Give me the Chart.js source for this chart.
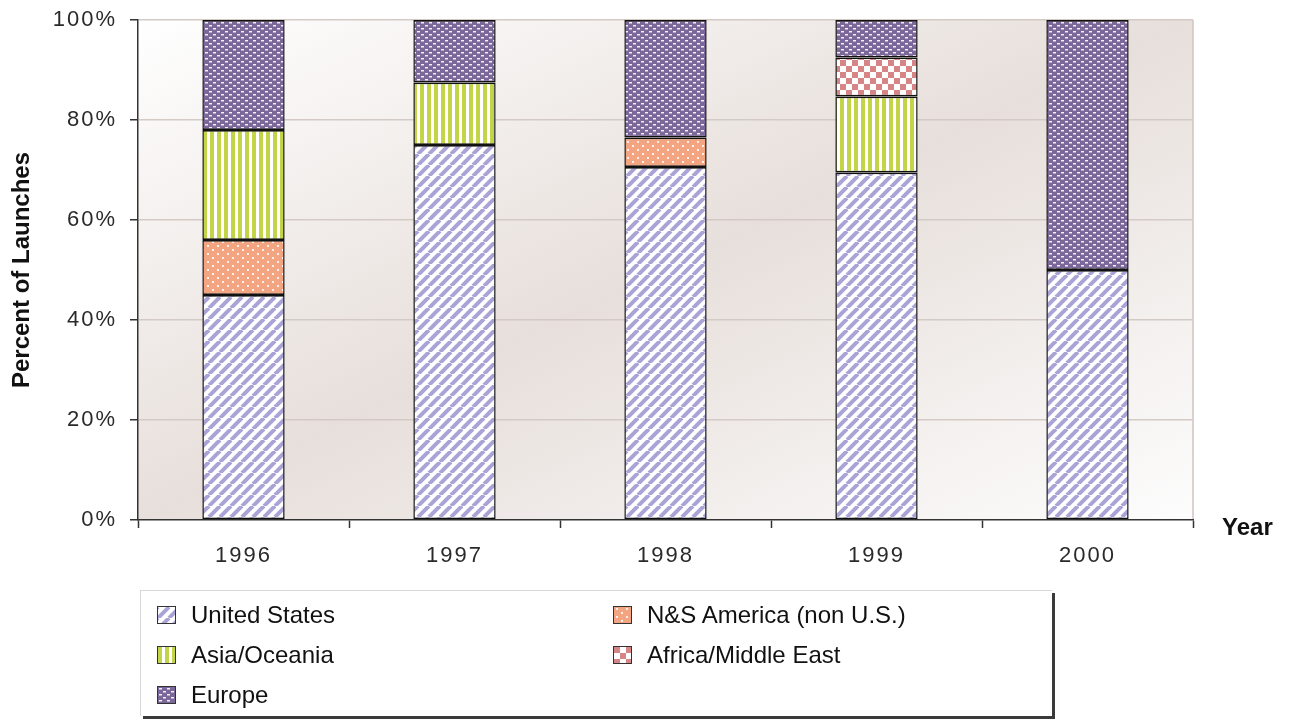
<!DOCTYPE html>
<html>
<head>
<meta charset="utf-8">
<script src="https://cdn.jsdelivr.net/npm/chart.js@4"></script>
<style>
  html, body { margin: 0; padding: 0; background: #ffffff; }
  #wrap { position: relative; width: 1289px; height: 723px; overflow: hidden; }
  #chart { position: absolute; left: 0; top: 0; }
  #legend {
    position: absolute; left: 140px; top: 590px; width: 912px; height: 126px;
    box-sizing: border-box; background: #ffffff;
    border-top: 1px solid #d8d8d8; border-left: 1px solid #d8d8d8;
    box-shadow: 3px 3px 0 #3a3a3a;
    font-family: "Liberation Sans", Arial, sans-serif; font-size: 24px; color: #111;
    display: grid; grid-template-columns: 456px auto; grid-auto-rows: 40px;
    padding: 4px 0 0 16px;
  }
  .item { display: flex; align-items: center; }
  .swatch { width: 19px; height: 18px; border: 1px solid #333; box-sizing: border-box; margin-right: 15px; flex: none; }
</style>
</head>
<body>
<div id="wrap">
  <canvas id="chart" width="1289" height="723"></canvas>
  <div id="legend"></div>
</div>
<script>
// Launch share by region, percent of all launches in each year
const years = ['1996', '1997', '1998', '1999', '2000'];
const unitedStates     = [45.0, 75.0, 70.6, 69.5, 50.0];
const nsAmerica        = [11.0,  0.0,  5.9,  0.0,  0.0];
const asiaOceania      = [22.0, 12.5,  0.0, 15.2,  0.0];
const africaMiddleEast = [ 0.0,  0.0,  0.0,  7.8,  0.0];
const europe           = [22.0, 12.5, 23.5,  7.5, 50.0];
const yTickValues = [0, 20, 40, 60, 80, 100];

const seriesNames = ['United States', 'N&S America (non U.S.)', 'Asia/Oceania', 'Africa/Middle East', 'Europe'];

// ---- fill patterns ----
function tile(w, h, paint) {
  const c = document.createElement('canvas');
  c.width = w; c.height = h;
  paint(c.getContext('2d'), w, h);
  return c;
}
const tiles = [
  // diagonal lavender hatch
  tile(11, 11, (g, w, h) => {
    g.fillStyle = '#ffffff'; g.fillRect(0, 0, w, h);
    g.strokeStyle = '#aaa3d6'; g.lineWidth = 4.0;
    for (const k of [-w, 0, w]) { g.beginPath(); g.moveTo(k, h); g.lineTo(k + w, 0); g.stroke(); }
  }),
  // salmon with white dots
  tile(10, 8, (g, w, h) => {
    g.fillStyle = '#f3a480'; g.fillRect(0, 0, w, h);
    g.fillStyle = 'rgba(255,255,255,0.85)';
    g.fillRect(2, 1, 2, 2); g.fillRect(7, 5, 2, 2);
  }),
  // green vertical stripes
  tile(7, 4, (g, w, h) => {
    g.fillStyle = '#ffffff'; g.fillRect(0, 0, w, h);
    g.fillStyle = '#c4d448'; g.fillRect(0, 0, 4, h);
  }),
  // rose checkerboard
  tile(12, 12, (g, w, h) => {
    g.fillStyle = '#ffffff'; g.fillRect(0, 0, w, h);
    g.fillStyle = '#d58585'; g.fillRect(0, 0, 6, 6); g.fillRect(6, 6, 6, 6);
  }),
  // purple with white dashes
  tile(8, 6, (g, w, h) => {
    g.fillStyle = '#7b679a'; g.fillRect(0, 0, w, h);
    g.fillStyle = 'rgba(255,255,255,0.9)';
    g.fillRect(1, 1, 3, 1.5); g.fillRect(5, 4, 3, 1.5);
  })
];
const ctx0 = document.getElementById('chart').getContext('2d');
const patterns = tiles.map(t => ctx0.createPattern(t, 'repeat'));

const seriesData = [unitedStates, nsAmerica, asiaOceania, africaMiddleEast, europe];

// ---- legend (two columns, row-wise) ----
const legendEl = document.getElementById('legend');
seriesNames.forEach((name, i) => {
  const item = document.createElement('div');
  item.className = 'item';
  const sw = document.createElement('div');
  sw.className = 'swatch';
  sw.style.backgroundImage = 'url(' + tiles[i].toDataURL() + ')';
  const label = document.createElement('span');
  label.textContent = name;
  item.appendChild(sw); item.appendChild(label);
  legendEl.appendChild(item);
});

// ---- plot background, frame, spaced tick text, and the "Year" caption ----
const decor = {
  id: 'decor',
  beforeDraw(chart) {
    const { ctx, chartArea: a } = chart;
    ctx.letterSpacing = '0px';
    ctx.save();
    const cx = (a.left + a.right) / 2, cy = (a.top + a.bottom) / 2;
    const w = a.right - a.left, h = a.bottom - a.top;
    const len = Math.hypot(h, w);
    const ux = h / len, uy = w / len;
    const half = (w / 2) * ux + (h / 2) * uy;
    const grad = ctx.createLinearGradient(cx - ux * half, cy - uy * half, cx + ux * half, cy + uy * half);
    grad.addColorStop(0, '#ffffff');
    grad.addColorStop(0.5, '#e7dfdb');
    grad.addColorStop(1, '#fdfdfd');
    ctx.fillStyle = grad;
    ctx.fillRect(a.left, a.top, w, h);
    ctx.strokeStyle = '#cfc5c1'; ctx.lineWidth = 1.5;
    ctx.beginPath(); ctx.moveTo(a.right, a.top); ctx.lineTo(a.right, a.bottom); ctx.stroke();
    ctx.restore();
  },
  afterDatasetsDraw(chart) {
    chart.ctx.letterSpacing = '2px';
  },
  afterDraw(chart) {
    const { ctx, chartArea: a } = chart;
    ctx.letterSpacing = '0px';
    ctx.save();
    ctx.font = 'bold 24px "Liberation Sans", Arial, sans-serif';
    ctx.fillStyle = '#111';
    ctx.textAlign = 'left';
    ctx.textBaseline = 'alphabetic';
    ctx.fillText('Year', a.right + 29, a.bottom + 15);
    ctx.restore();
  }
};

new Chart(ctx0, {
  type: 'bar',
  data: {
    labels: years,
    datasets: seriesNames.map((name, i) => ({
      label: name,
      data: seriesData[i],
      backgroundColor: patterns[i],
      borderColor: '#111',
      borderWidth: { top: 1.7, bottom: 1.7, left: 1.5, right: 1.5 },
      borderSkipped: false,
      barPercentage: 0.39,
      categoryPercentage: 1.0
    }))
  },
  options: {
    responsive: false,
    animation: false,
    events: [],
    layout: { padding: { top: 20, right: 96, bottom: 143, left: 0 } },
    plugins: { legend: { display: false }, tooltip: { enabled: false } },
    scales: {
      x: {
        stacked: true,
        grid: { display: true, drawOnChartArea: false, offset: true, tickLength: 8, tickColor: '#333', tickWidth: 1.5 },
        border: { display: true, color: '#333', width: 1.5 },
        ticks: { z: 1, color: '#2a2a2a', padding: 15, maxRotation: 0,
                 font: { family: '"Liberation Sans", Arial, sans-serif', size: 22 } },
        afterFit(scale) { scale.height = 60; scale.paddingLeft = 0; scale.paddingRight = 0; }
      },
      y: {
        stacked: true,
        min: 0, max: 100,
        afterBuildTicks(scale) { scale.ticks = yTickValues.map(v => ({ value: v })); },
        grid: {
          color: ctx => ctx.tick && ctx.tick.value === 0 ? 'rgba(0,0,0,0)' : '#d3cac6',
          lineWidth: 1.5, tickLength: 8, tickColor: '#333', tickWidth: 1.5
        },
        border: { display: true, color: '#333', width: 1.5 },
        ticks: { z: 1, color: '#2a2a2a', padding: 13,
                 callback: v => v + '%',
                 font: { family: '"Liberation Sans", Arial, sans-serif', size: 22 } },
        title: { display: true, text: 'Percent of Launches', color: '#111',
                 padding: { top: 8, bottom: 0 },
                 font: { family: '"Liberation Sans", Arial, sans-serif', size: 24, weight: 'bold' } },
        afterFit(scale) { scale.width = 138; scale.paddingTop = 0; scale.paddingBottom = 0; }
      }
    }
  },
  plugins: [decor]
});
</script>
</body>
</html>
